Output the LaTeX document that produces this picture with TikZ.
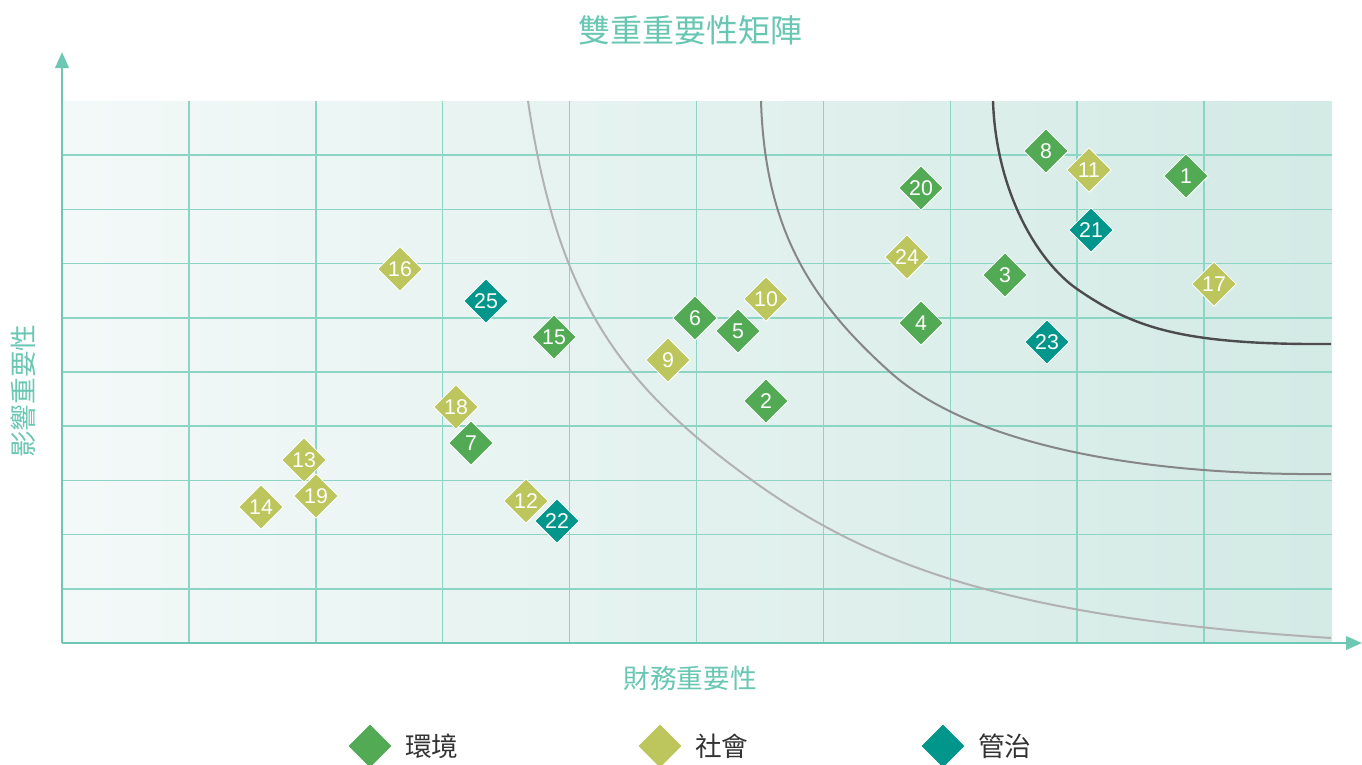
\documentclass[tikz,border=0pt]{standalone}
\usepackage{fontspec}
\setmainfont{Liberation Sans}
\newfontfamily\cjk{Noto Sans CJK TC}
\usetikzlibrary{shapes.geometric,arrows.meta,positioning}
\definecolor{envgreen}{RGB}{82,170,85}
\definecolor{socolive}{RGB}{188,198,92}
\definecolor{govteal}{RGB}{0,150,140}
\definecolor{gridmint}{RGB}{140,212,195}
\definecolor{axismint}{RGB}{108,200,178}
\definecolor{labelmint}{RGB}{104,198,178}
\definecolor{bgleft}{RGB}{243,249,248}
\definecolor{bgright}{RGB}{211,234,229}
\tikzset{
  issue/.style={diamond, aspect=1, minimum size=33.5pt, inner sep=0pt, draw=white, line width=0.6pt, text=white, font=\fontsize{16}{16}\selectfont},
  gridline/.style={gridmint, line width=1.1pt},
  axisline/.style={axismint, line width=2pt, -{Triangle[length=12pt,width=10pt]}},
  axislabel/.style={text=labelmint, font=\cjk\fontsize{20}{20}\selectfont},
  keytext/.style={text=black!80, inner sep=0pt, font=\cjk\fontsize{20}{20}\selectfont}
}

\begin{document}
\begin{tikzpicture}[x=0.75pt,y=-0.75pt]
\useasboundingbox (0,0) rectangle (1362,764);
% plot area
\shade[left color=bgleft, right color=bgright] (62,101) rectangle (1332,643);
\foreach \i in {1,...,9} \draw[gridline] (62+126.9*\i,101) -- (62+126.9*\i,643);
\foreach \j in {1,...,9} \draw[gridline] (62,101+54.2*\j) -- (1332,101+54.2*\j);
% materiality thresholds
\draw[gray!60, line width=1.5pt] (528,101) .. controls (558,301) and (620,385) .. (753,481) .. controls (873,567) and (1013,618) .. (1331,638);
\draw[gray!95, line width=1.5pt] (761,101) .. controls (765,231) and (812,302) .. (890,372) .. controls (968,442) and (1131,476) .. (1331,474);
\draw[black!70, line width=1.8pt] (993,101) .. controls (996,191) and (1037,261) .. (1077,289) .. controls (1133,327.5) and (1181,345) .. (1331,344);
% axes
\coordinate (origin) at (62,643);
\coordinate (ytip) at (62,52);
\coordinate (xtip) at (1362,643);
\draw[axisline] (origin) -- (ytip);
\draw[axisline] (origin) -- (xtip);
\node[text=labelmint, font=\cjk\fontsize{24}{24}\selectfont] (title) at (690,30) {雙重重要性矩陣};
\node[axislabel] (xlabel) at (690,678) {財務重要性};
\node[axislabel, rotate=90] (ylabel) at (23,391) {影響重要性};
% issues, top to bottom
\foreach \n/\x/\y/\k in {8/1046/151/envgreen, 11/1089/170/socolive, 1/1186/176/envgreen, 20/921/188/envgreen,
  21/1091/230/govteal, 24/907/257/socolive, 16/400/269/socolive, 3/1005/275/envgreen, 17/1214/284/socolive,
  10/766/299/socolive, 25/486/301/govteal, 6/695/318/envgreen, 4/921/323/envgreen, 5/738/331/envgreen,
  15/554/337/envgreen, 23/1047/342/govteal, 9/668/360/socolive, 2/766/401/envgreen, 18/456/407/socolive,
  7/471/443/envgreen, 13/304/460/socolive, 19/316/496/socolive, 12/526/501/socolive, 14/261/507/socolive,
  22/557/521/govteal}
  \node[issue, fill=\k] (p\n) at (\x,\y) {\n};
% legend
\node[issue, fill=envgreen] (keyenv) at (370,746) {};
\node[keytext, right=9pt of keyenv] (keyenvtext) {環境};
\node[issue, fill=socolive] (keysoc) at (660,746) {};
\node[keytext, right=9pt of keysoc] (keysoctext) {社會};
\node[issue, fill=govteal] (keygov) at (943,746) {};
\node[keytext, right=9pt of keygov] (keygovtext) {管治};
\end{tikzpicture}
\end{document}
